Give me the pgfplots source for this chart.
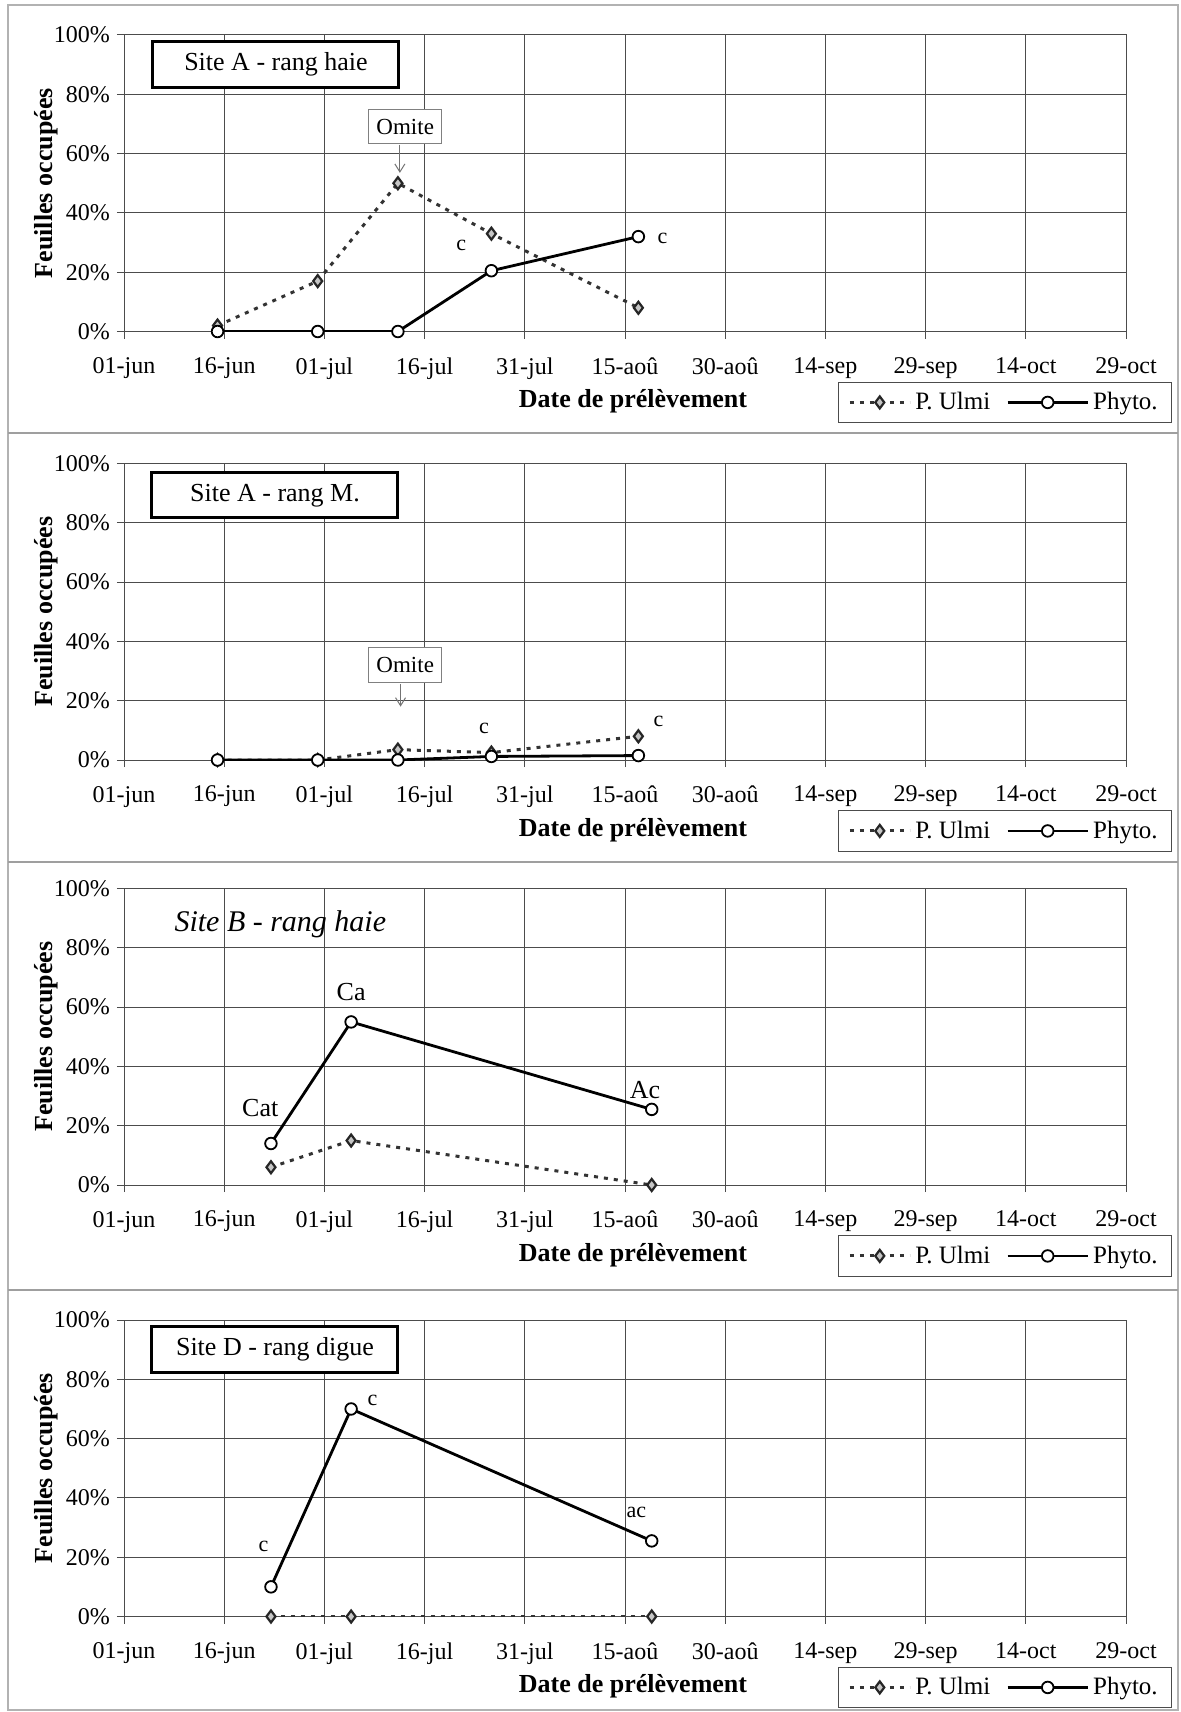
\documentclass[border=0pt]{standalone}
\usepackage{pgfplots}
\pgfplotsset{compat=1.18}
\usepackage{fontspec}
\setmainfont{Liberation Serif}
\usetikzlibrary{arrows.meta}

\pgfplotsset{
  panel/.style={
    scale only axis, width=501pt, height=148.25pt,
    anchor=south west,
    xmin=0,xmax=150,ymin=0,ymax=100,
    xtick={0,15,...,150},
    xticklabels={01-jun,16-jun,01-jul,16-jul,31-jul,15-aoû,30-aoû,14-sep,29-sep,14-oct,29-oct},
    ytick={0,20,...,100},
    yticklabel={\pgfmathprintnumber{\tick}\%},
    /pgf/number format/assume math mode=true,
    grid=major,
    major grid style={draw=black!70, line width=0.5pt},
    axis line style={draw=black!70, line width=0.5pt},
    tick style={draw=black!70, line width=0.5pt},
    xtick pos=bottom, ytick pos=left,
    tick align=outside, major tick length=3.5pt,
    ticklabel style={font=\fontsize{12}{14}\selectfont},
    xticklabel style={yshift=-6pt},
    xlabel={Date de prélèvement},
    ylabel={Feuilles occupées},
    label style={font=\bfseries\fontsize{13}{15}\selectfont},
    xlabel style={at={(axis description cs:0.508,-0.236)},anchor=center},
    ylabel style={at={(axis description cs:-0.0778,0.5)},anchor=center},
    legend columns=2,
    legend style={at={(axis description cs:1.046,-0.3086)},anchor=south east,
      draw=black!70, fill=white, font=\fontsize{12.5}{14}\selectfont,
      inner xsep=5pt, inner ysep=3pt,
      /tikz/every even column/.append style={column sep=6pt}},
  },
  ulmi/.style={draw=black!80, line width=1.5pt, dash pattern=on 2pt off 3pt,
    mark=diamond*, mark size=3pt,
    mark options={solid, fill=gray!45, draw=black!85, line width=1.1pt},
    legend image code/.code={\draw[##1,mark repeat=2,mark phase=2] plot coordinates {(0pt,0pt)(15pt,0pt)(30pt,0pt)};}},
  phyto/.style={draw=black, line width=1.4pt, mark=*, mark size=2.9pt,
    mark options={solid, fill=white, draw=black, line width=0.9pt},
    legend image code/.code={\draw[##1,mark repeat=2,mark phase=2] plot coordinates {(0pt,0pt)(20pt,0pt)(40pt,0pt)};}},
}
\tikzset{
  titlebox/.style={draw=black, line width=1.5pt, fill=white, minimum width=123pt, minimum height=22.7pt, font=\fontsize{13}{15}\selectfont},
  omite/.style={draw=black!50, line width=0.5pt, fill=white, minimum width=36.7pt, minimum height=17.2pt, font=\fontsize{11.5}{13}\selectfont},
  annot/.style={font=\fontsize{11}{13}\selectfont},
}

\begin{document}
\begin{tikzpicture}
\useasboundingbox (0,0) rectangle (590.5pt,-856pt);
\fill[white] (0,0) rectangle (590.5pt,-856pt);
\draw[gray!60, line width=1pt] (4pt,-2.5pt) rectangle (589pt,-855pt);
\draw[gray!75, line width=1pt] (4pt,-216.5pt) -- (589pt,-216.5pt);
\draw[gray!75, line width=1pt] (4pt,-431pt) -- (589pt,-431pt);
\draw[gray!75, line width=1pt] (4pt,-645pt) -- (589pt,-645pt);

% Panel 1
\begin{axis}[panel, at={(62pt,-165.75pt)}]
\addplot[ulmi] coordinates {(14,2) (29,17) (41,50) (55,33) (77,8)};
\addplot[phyto] coordinates {(14,0) (29,0) (41,0) (55,20.5) (77,32)};
\legend{P. Ulmi, Phyto.}
\node[titlebox] at (axis cs:22.75,90) {Site A - rang haie};
\node[omite] at (axis cs:42.1,69.1) {Omite};
\draw[black!55, line width=0.5pt, -{Straight Barb[length=4pt,width=5pt]}] (axis cs:41.3,63) -- (axis cs:41.3,53.5);
\node[annot] at (axis cs:50.5,29) {c};
\node[annot] at (axis cs:80.6,31.5) {c};
\end{axis}

% Panel 2
\begin{axis}[panel, at={(62pt,-380pt)}]
\addplot[ulmi] coordinates {(14,0) (29,0) (41,3.5) (55,2.5) (77,8)};
\addplot[phyto] coordinates {(14,0) (29,0) (41,0) (55,1.2) (77,1.5)};
\legend{P. Ulmi, Phyto.}
\node[titlebox] at (axis cs:22.6,89.3) {Site A - rang M.};
\node[omite] at (axis cs:42.1,32) {Omite};
\draw[black!55, line width=0.5pt, -{Straight Barb[length=4pt,width=5pt]}] (axis cs:41.4,25.6) -- (axis cs:41.4,18);
\node[annot] at (axis cs:53.9,10.5) {c};
\node[annot] at (axis cs:80,13) {c};
\end{axis}

% Panel 3
\begin{axis}[panel, at={(62pt,-592.5pt)}]
\addplot[ulmi] coordinates {(22,6) (34,15) (79,0)};
\addplot[phyto] coordinates {(22,14) (34,55) (79,25.5)};
\legend{P. Ulmi, Phyto.}
\node[font=\itshape\fontsize{15}{17}\selectfont] at (axis cs:23.4,88) {Site B - rang haie};
\node[font=\fontsize{13}{15}\selectfont] at (axis cs:20.4,26) {Cat};
\node[font=\fontsize{13}{15}\selectfont] at (axis cs:34,65) {Ca};
\node[font=\fontsize{13}{15}\selectfont] at (axis cs:78,32) {Ac};
\end{axis}

% Panel 4
\begin{axis}[panel, at={(62pt,-808.25pt)}]
\addplot[ulmi] coordinates {(22,0) (34,0) (79,0)};
\addplot[phyto] coordinates {(22,10) (34,70) (79,25.5)};
\legend{P. Ulmi, Phyto.}
\node[titlebox] at (axis cs:22.6,90) {Site D - rang digue};
\node[annot] at (axis cs:20.9,23.8) {c};
\node[annot] at (axis cs:37.2,73) {c};
\node[annot] at (axis cs:76.7,35) {ac};
\end{axis}
\end{tikzpicture}
\end{document}
